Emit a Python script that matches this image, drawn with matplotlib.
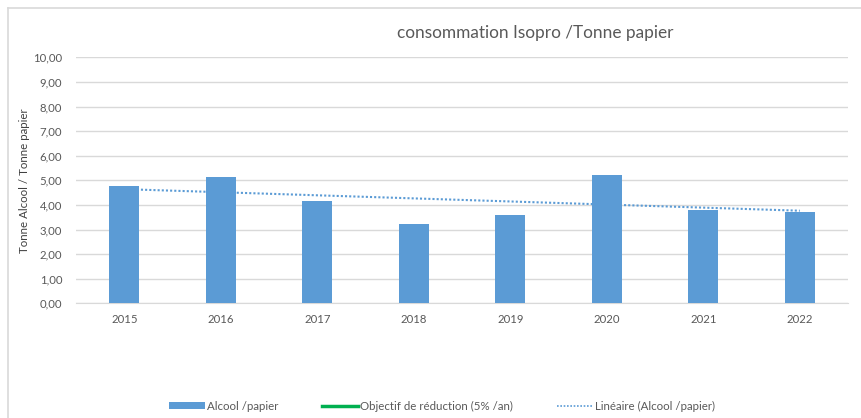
import numpy as np
import matplotlib.pyplot as plt
from matplotlib.lines import Line2D
from matplotlib.patches import Patch

plt.rcParams['font.family'] = ['Lato', 'DejaVu Sans']

annees = ['2015', '2016', '2017', '2018', '2019', '2020', '2021', '2022']
alcool_papier = [4.78, 5.13, 4.16, 3.22, 3.59, 5.22, 3.80, 3.72]
yticks = [0, 1, 2, 3, 4, 5, 6, 7, 8, 9, 10]

bleu = '#5b9bd5'
gris = '#595959'
grille = '#d9d9d9'

fig = plt.figure(figsize=(8.62, 4.18), dpi=100)

# cadre du graphique (bord gauche et haut seulement visibles)
fig.add_artist(plt.Line2D([8/862, 8/862], [0, 1 - 8/418], color='#d9d9d9', lw=1.2))
fig.add_artist(plt.Line2D([8/862, 1], [1 - 8/418, 1 - 8/418], color='#d9d9d9', lw=1.2))

ax = fig.add_axes([0.0882, 0.2744, 0.8956, 0.5885])
x = np.arange(len(annees))
ax.bar(x, alcool_papier, width=0.31, color=bleu, zorder=3)

# tendance linéaire
a, b = np.polyfit(x, alcool_papier, 1)
ax.plot(x, a * x + b, color=bleu, lw=1.5, ls=(0, (1, 1)), zorder=2)

ax.set_xlim(-0.5, len(annees) - 0.5)
ax.set_ylim(0, 10)
ax.set_yticks(yticks)
ax.set_yticklabels([('%.2f' % v).replace('.', ',') for v in yticks])
ax.set_xticks(x)
ax.set_xticklabels(annees)
ax.tick_params(length=0, labelsize=8.2, colors=gris, pad=8)
ax.tick_params(axis='y', pad=10)
ax.grid(axis='y', color=grille, lw=1, zorder=0)
for s in ['top', 'left', 'right']:
    ax.spines[s].set_visible(False)
ax.spines['bottom'].set_color(grille)
ax.set_ylabel('Tonne Alcool / Tonne papier', fontsize=8.3, color='#404040')
ax.yaxis.set_label_coords(-0.059, 0.5)

fig.text(0.621, 1 - 33/418, 'consommation Isopro /Tonne papier', fontsize=12.4,
         color=gris, ha='center', va='center')

handles = [
    Patch(facecolor=bleu, edgecolor='none'),
    Line2D([0], [0], color='#00b050', lw=2.5),
    Line2D([0], [0], color=bleu, lw=1.2, ls=(0, (1, 1))),
]
labels = ['Alcool /papier', 'Objectif de réduction (5% /an)', 'Linéaire (Alcool /papier)']
fig.legend(handles, labels, loc='center', bbox_to_anchor=(0.513, 1 - 406/418), ncol=3,
           frameon=False, fontsize=8.3, labelcolor=gris, handlelength=3.1,
           handleheight=0.5, handletextpad=0.2, columnspacing=3.8,
           borderpad=0, borderaxespad=0)

fig.savefig('out.png', dpi=100)
